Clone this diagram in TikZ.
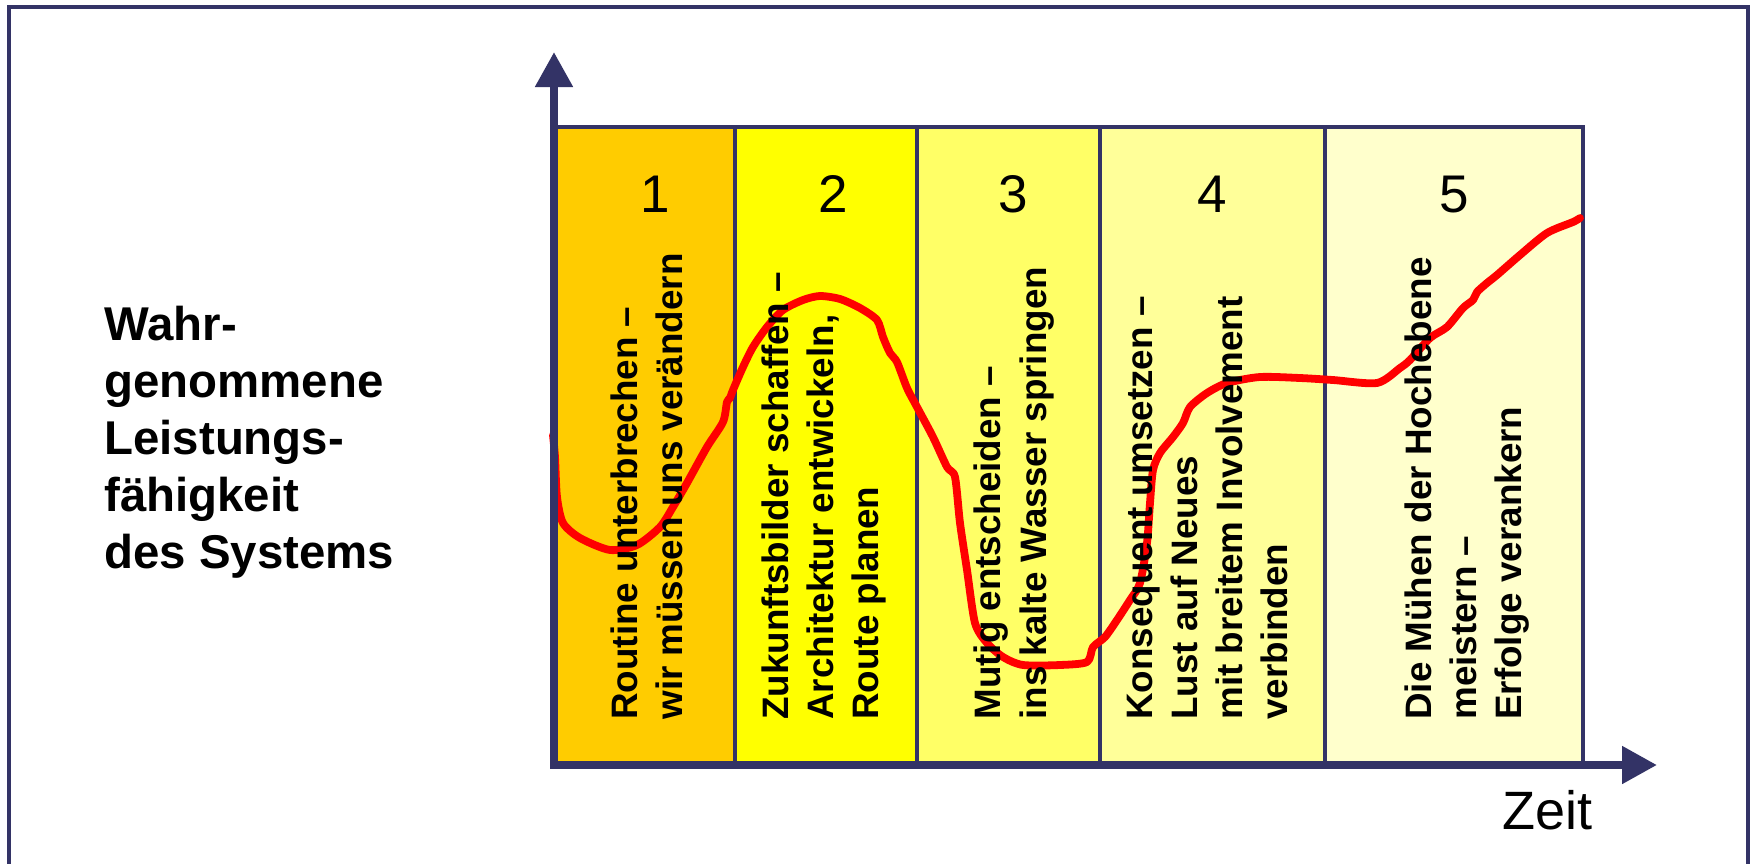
\documentclass[tikz,border=0pt]{standalone}
\usepackage{fontspec}
\setmainfont{Liberation Sans}
\usetikzlibrary{arrows.meta}
\definecolor{axisblue}{HTML}{333366}
\definecolor{colA}{HTML}{FFCC00}
\definecolor{colB}{HTML}{FFFF00}
\definecolor{colC}{HTML}{FFFF66}
\definecolor{colD}{HTML}{FFFF99}
\definecolor{colE}{HTML}{FFFFCC}
\begin{document}
\begin{tikzpicture}[x=0.5pt,y=-0.5pt,
  colbox/.style={draw=axisblue, line width=1.6pt},
  vtext/.style={rotate=90, anchor=base west, inner sep=0pt, font=\bfseries\fontsize{18.4}{22}\selectfont},
  ltext/.style={anchor=base west, inner sep=0pt, font=\bfseries\fontsize{23.7}{29}\selectfont},
  numtext/.style={anchor=base, inner sep=0pt, font=\fontsize{26.5}{32}\selectfont},
  axisline/.style={draw=axisblue, line width=4pt, {Triangle[length=17.5pt,width=18pt]}-{Triangle[length=17.5pt,width=18pt]}},
  curveline/.style={draw=red, line width=3.9pt, line join=round, line cap=round}]
\useasboundingbox (0,0) rectangle (1751,863);
\clip (0,0) rectangle (1751,863);
\fill[white] (0,0) rectangle (1751,863);
% outer frame
\draw[axisblue, line width=2pt] (9,890) -- (9,7) -- (1748,7) -- (1748,890);
% columns
\draw[colbox, fill=colA] (554,127) rectangle (735,765);
\draw[colbox, fill=colB] (735,127) rectangle (917,765);
\draw[colbox, fill=colC] (917,127) rectangle (1100,765);
\draw[colbox, fill=colD] (1100,127) rectangle (1325,765);
\draw[colbox, fill=colE] (1325,127) rectangle (1583,765);
% curve
\draw[curveline] plot[smooth, tension=0.45] coordinates {
(553,435) (555,457) (557,497) (563,523) (580,538) (610,550) (637,545) (660,527)
(673,507) (687,483) (707,447) (723,422) (727,402) (730,398) (733,390) (743,367)
(753,347) (767,327) (783,310) (803,300) (820,296) (840,299) (860,308) (877,320)
(883,337) (890,353) (897,362) (907,388) (917,407) (933,437) (947,467) (955,477)
(960,523) (967,570) (975,623) (987,643) (1003,657) (1023,665) (1060,665) (1087,662)
(1093,647) (1105,637) (1117,620) (1130,600) (1140,583) (1147,543) (1150,503) (1153,470)
(1160,453) (1173,437) (1183,423) (1190,407) (1207,393) (1227,383) (1260,377) (1300,378)
(1333,380) (1377,383) (1400,368) (1410,360) (1430,338) (1447,327) (1463,308) (1473,300)
(1477,292) (1487,283) (1497,275) (1520,255) (1547,233) (1573,222) (1580,218)};
% axes
\coordinate (origin) at (554,765);
\coordinate (ytip) at (554,52);
\coordinate (xtip) at (1657,765);
\draw[axisline] (ytip) -- (origin) -- (xtip);
% numbers
\node[numtext] (n1) at (655,212) {1};
\node[numtext] (n2) at (833,212) {2};
\node[numtext] (n3) at (1013,212) {3};
\node[numtext] (n4) at (1212,212) {4};
\node[numtext] (n5) at (1454,212) {5};
% column texts
\node[vtext] (c1a) at (637,720) {Routine unterbrechen –};
\node[vtext] (c1b) at (682,720) {wir müssen uns verändern};
\node[vtext] (c2a) at (788,720) {Zukunftsbilder schaffen –};
\node[vtext] (c2b) at (833,720) {Architektur entwickeln,};
\node[vtext] (c2c) at (878,720) {Route planen};
\node[vtext] (c3a) at (1000,720) {Mutig entscheiden –};
\node[vtext] (c3b) at (1046,720) {ins kalte Wasser springen};
\node[vtext] (c4a) at (1152,720) {Konsequent umsetzen –};
\node[vtext] (c4b) at (1197,720) {Lust auf Neues};
\node[vtext] (c4c) at (1242,720) {mit breitem Involvement};
\node[vtext] (c4d) at (1287,720) {verbinden};
\node[vtext] (c5a) at (1431,720) {Die Mühen der Hochebene};
\node[vtext] (c5b) at (1476,720) {meistern –};
\node[vtext] (c5c) at (1521,720) {Erfolge verankern};
% left label
\node[ltext] (l1) at (104,340) {Wahr-};
\node[ltext] (l2) at (104,397) {genommene};
\node[ltext] (l3) at (104,454) {Leistungs-};
\node[ltext] (l4) at (104,511) {fähigkeit};
\node[ltext] (l5) at (104,568) {des Systems};
% axis label
\node[anchor=base west, inner sep=0pt, font=\fontsize{27}{32}\selectfont] (zeit) at (1502,829) {Zeit};
\end{tikzpicture}
\end{document}
